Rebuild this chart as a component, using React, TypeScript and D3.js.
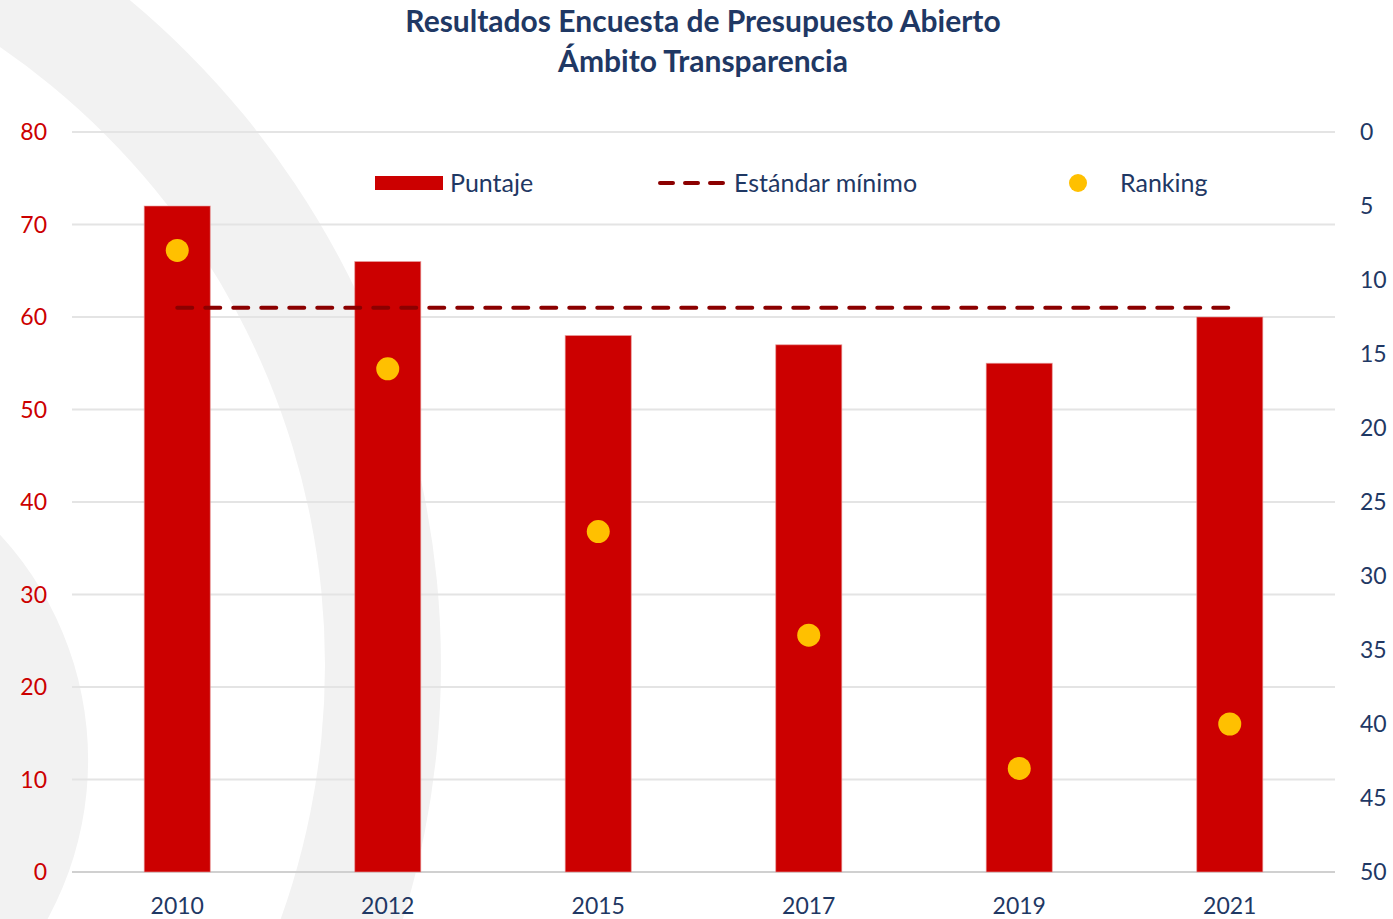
import React from "react";
import * as d3 from "d3";

const years = ["2010", "2012", "2015", "2017", "2019", "2021"];
const puntaje = [72, 66, 58, 57, 55, 60];
const ranking = [8, 16, 27, 34, 43, 40];
const estandar = 61;
const leftTicks = [0, 10, 20, 30, 40, 50, 60, 70, 80];
const rightTicks = [0, 5, 10, 15, 20, 25, 30, 35, 40, 45, 50];

const W = 1393, H = 919;
const M = { left: 72, right: 1335, top: 132, bottom: 872 };
const FONT = "Lato, 'Open Sans', sans-serif";
const NAVY = "#1F3864";
const RED = "#CC0000";
const DARKRED = "#8B0000";
const YELLOW = "#FFC000";

export default function App() {
  const x = d3.scaleBand<string>().domain(years).range([M.left, M.right]).paddingInner(0.686).paddingOuter(0.343);
  const y = d3.scaleLinear().domain([0, 80]).range([M.bottom, M.top]);
  const yR = d3.scaleLinear().domain([0, 50]).range([M.top, M.bottom]);
  const cx = (yr: string) => (x(yr) as number) + x.bandwidth() / 2;
  const arc1 = d3.arc()({ innerRadius: 750, outerRadius: 866, startAngle: 0, endAngle: Math.PI * 2 }) as string;
  const arc2 = d3.arc()({ innerRadius: 0, outerRadius: 332, startAngle: 0, endAngle: Math.PI * 2 }) as string;

  return (
    <svg width={W} height={H} style={{ position: "absolute", left: 0, top: 0, display: "block" }} fontFamily={FONT}>
      <rect x={0} y={0} width={W} height={H} fill="#fff" />
      <path d={arc1} transform="translate(-425,665)" fill="#F2F2F2" />
      <path d={arc2} transform="translate(-244,760)" fill="#F2F2F2" />
      {/* grid */}
      {leftTicks.map((t) => (
        <line key={t} x1={M.left} x2={M.right} y1={y(t)} y2={y(t)} stroke={t === 0 ? "#D0D0D0" : "#E4E4E4"} strokeWidth={2} />
      ))}
      {/* bars */}
      {years.map((yr, i) => (
        <rect key={yr} x={x(yr)} y={y(puntaje[i])} width={x.bandwidth()} height={y(0) - y(puntaje[i])} fill={RED} stroke="#E9A3A3" strokeWidth={1} strokeOpacity={0.6} />
      ))}
      {/* estandar */}
      <line x1={cx(years[0])} x2={cx(years[years.length - 1])} y1={y(estandar)} y2={y(estandar)} stroke={DARKRED} strokeWidth={4} strokeDasharray="15 13" strokeLinecap="round" />
      {/* ranking */}
      {years.map((yr, i) => (
        <circle key={yr} cx={cx(yr)} cy={yR(ranking[i])} r={11.5} fill={YELLOW} />
      ))}
      {/* left axis */}
      {leftTicks.map((t) => (
        <text key={t} x={47} y={y(t)} dy="0.35em" textAnchor="end" fill={RED} fontSize={23}>{t}</text>
      ))}
      {/* right axis */}
      {rightTicks.map((t) => (
        <text key={t} x={1360} y={yR(t)} dy="0.35em" textAnchor="start" fill={NAVY} fontSize={23}>{t}</text>
      ))}
      {/* x labels */}
      {years.map((yr) => (
        <text key={yr} x={cx(yr)} y={914} textAnchor="middle" fill={NAVY} fontSize={23}>{yr}</text>
      ))}
      {/* title */}
      <text x={703} y={32} textAnchor="middle" fill={NAVY} fontSize={30} fontWeight="bold">Resultados Encuesta de Presupuesto Abierto</text>
      <text x={703} y={72} textAnchor="middle" fill={NAVY} fontSize={30} fontWeight="bold">Ámbito Transparencia</text>
      {/* legend */}
      <rect x={375} y={176} width={68} height={14} fill={RED} />
      <text x={450} y={183} dy="0.35em" fill={NAVY} fontSize={25}>Puntaje</text>
      <line x1={660} x2={727} y1={183} y2={183} stroke={DARKRED} strokeWidth={4} strokeDasharray="13 12" strokeLinecap="round" />
      <text x={734} y={183} dy="0.35em" fill={NAVY} fontSize={25}>Estándar mínimo</text>
      <circle cx={1078} cy={183} r={9} fill={YELLOW} />
      <text x={1120} y={183} dy="0.35em" fill={NAVY} fontSize={25}>Ranking</text>
    </svg>
  );
}
